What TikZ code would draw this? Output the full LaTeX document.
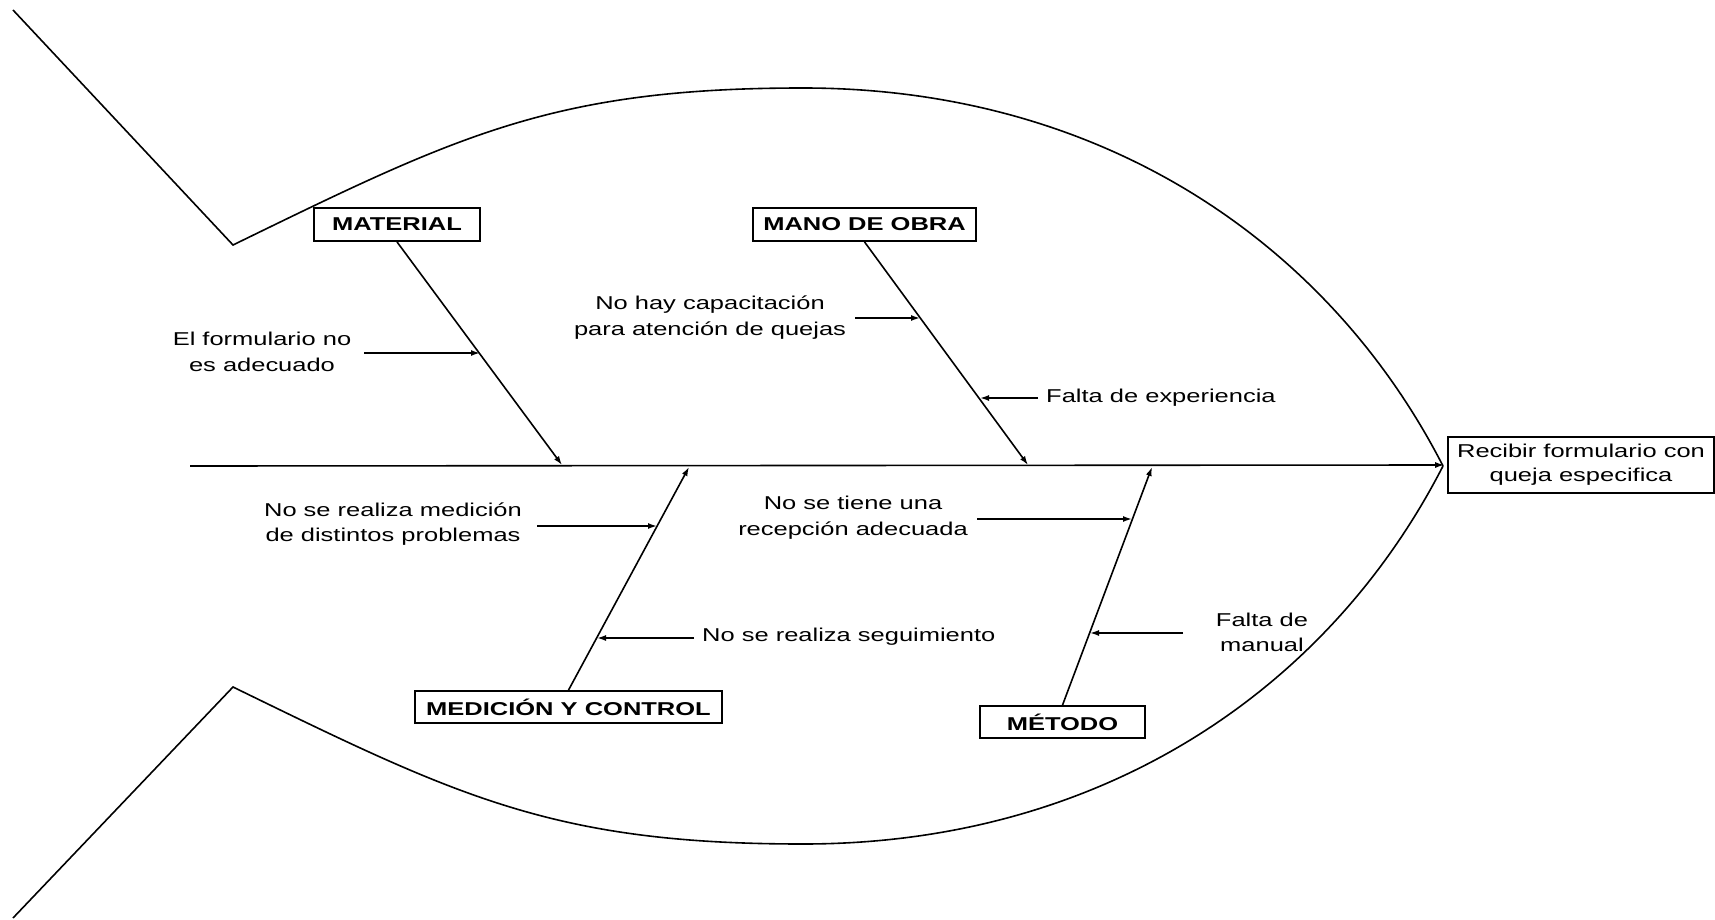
\documentclass[tikz,border=0pt]{standalone}
\usepackage{fontspec}
\setmainfont{Liberation Sans}[FakeStretch=1.37]
\usetikzlibrary{arrows.meta}

\begin{document}
\begin{tikzpicture}[x=1pt,y=-1pt,
  ln/.style={line width=1.6pt, draw=black},
  bone/.style={ln, -{Latex[length=9pt,width=6pt]}},
  cat/.style={draw, line width=1.8pt, inner sep=0pt, font=\fontsize{18.6}{25}\selectfont\bfseries},
  cause/.style={align=center, inner sep=0pt, font=\fontsize{18.6}{25.5}\selectfont},
  effect/.style={draw, line width=1.6pt, align=center, inner sep=0pt,
    minimum width=266pt, minimum height=56pt, font=\fontsize{18.6}{24}\selectfont}]
\useasboundingbox (0,0) rectangle (1715,920);

% fish outline: tail and body
\draw[ln, line join=miter] (13,10) -- (233,245)
  .. controls (457.7,135.5) and (553,88) .. (803,88)
  .. controls (1103,88) and (1329,243.5) .. (1443,466);
\draw[ln, line join=miter] (13,918) -- (233,687)
  .. controls (457.7,796.5) and (553,844) .. (803,844)
  .. controls (1103,844) and (1329,688.5) .. (1443,466);

% effect and spine
\node[effect] (head) at (1581,465) {Recibir formulario con\\queja especifica};
\coordinate (tail) at (190,466);
\draw[bone, shorten >=3pt] (tail) -- (head.west);

% categories
\node[cat, minimum width=166pt, minimum height=33pt] (mat) at (397,224.5) {MATERIAL};
\node[cat, minimum width=223pt, minimum height=33pt] (mano) at (864.5,224.5) {MANO DE OBRA};
\node[cat, minimum width=307pt, minimum height=32pt] (med) at (568.5,707) {MEDICIÓN Y CONTROL};
\node[cat, minimum width=165pt, minimum height=32pt] (met) at (1062.5,722) {MÉTODO};

\coordinate (matTip) at (562,465);
\coordinate (manoTip) at (1028,465);
\coordinate (medTip) at (689,467);
\coordinate (metTip) at (1152,467);
\draw[bone] (mat.south) -- (matTip);
\draw[bone] (mano.south) -- (manoTip);
\draw[bone] (med.north) -- (medTip);
\draw[bone] (met.north) -- (metTip);

% causes
\node[cause] (c1) at (262,352) {El formulario no\\es adecuado};
\coordinate (c1s) at (364,353);  \coordinate (c1e) at (480,353);
\draw[bone] (c1s) -- (c1e);

\node[cause] (c2) at (710,317.5) {No hay capacitación\\para atención de quejas};
\coordinate (c2s) at (855,318);  \coordinate (c2e) at (920,318);
\draw[bone] (c2s) -- (c2e);

\node[cause, anchor=west] (c3) at (1046,398) {Falta de experiencia};
\coordinate (c3s) at (1038,398);  \coordinate (c3e) at (980,398);
\draw[bone] (c3s) -- (c3e);

\node[cause] (c4) at (393,524) {No se realiza medición\\de distintos problemas};
\coordinate (c4s) at (537,526);  \coordinate (c4e) at (657,526);
\draw[bone] (c4s) -- (c4e);

\node[cause, anchor=west] (c5) at (702,637) {No se realiza seguimiento};
\coordinate (c5s) at (694,638);  \coordinate (c5e) at (597,638);
\draw[bone] (c5s) -- (c5e);

\node[cause] (c6) at (853,517.5) {No se tiene una\\recepción adecuada};
\coordinate (c6s) at (977,519);  \coordinate (c6e) at (1132,519);
\draw[bone] (c6s) -- (c6e);

\node[cause] (c7) at (1262,632.5) {Falta de\\manual};
\coordinate (c7s) at (1183,633);  \coordinate (c7e) at (1090,633);
\draw[bone] (c7s) -- (c7e);
\end{tikzpicture}
\end{document}
